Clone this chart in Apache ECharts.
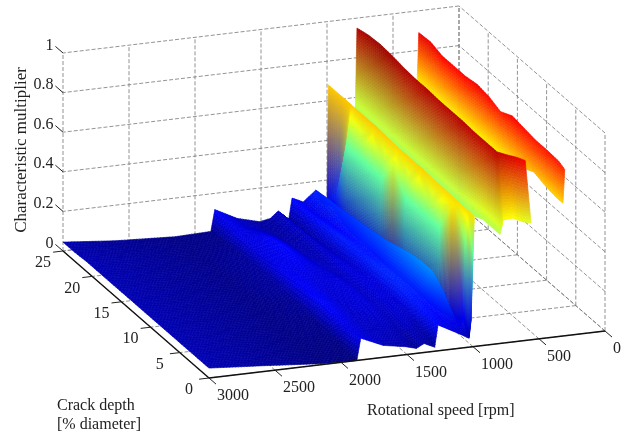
<!DOCTYPE html>
<html><head><meta charset="utf-8">
<style>html,body{margin:0;padding:0;background:#fff}#c{width:630px;height:438px;filter:blur(0.5px)}</style>
<script src="https://cdn.jsdelivr.net/npm/echarts@6/dist/echarts.min.js"></script>
</head><body><div id="c"></div>
<script>
const rpmTicks=[0,500,1000,1500,2000,2500,3000];
const depthTicks=[0,5,10,15,20,25];
const zTicks=[0,0.2,0.4,0.6,0.8,1];
const rpmSamples=[3000,2600,2150,1880,1850,1680,1510,1430,1370,1290,1265,1180,1085,1045,1030,1015,1000,990,900,795,785,773,700,620,560,450,318,312,305];
const depthSamples=[25,23,21,19,17,15,13,11,9,7,5,3,1,0];
const n=null;
const depth25=[.045,.02,.005,.01,.118,.06,.03,.04,.073,.025,.13,.104,.156,.09,.09,.09,.09,.68,n,.48,.57,.95,n,n,n,n,.64,.74,.89];
const depth23=[.045,.025,.01,.01,.11,.065,.035,.04,.075,.03,.13,.10,.165,.12,.13,.14,.16,.68,n,.48,.57,.965,n,n,n,n,.64,.74,.895];
const depth21=[.05,.03,.01,.02,.10,.09,.04,.045,.08,.035,.135,.11,.17,.08,.47,.54,.62,.68,n,.48,.57,.97,n,n,n,n,.64,.74,.875];
const depth19=[.05,.03,.012,.03,.09,.12,.05,.05,.08,.05,.14,.12,.18,.07,.47,.53,.60,.68,n,.48,.57,.965,n,n,n,n,.64,.74,.875];
const depth17=[.05,.03,.012,.03,.09,.13,.06,.05,.08,.06,.15,.13,.19,.07,.47,.62,.67,.68,n,.48,.57,.955,n,n,n,n,.64,.74,.875];
const depth15=[.05,.03,.012,.03,.10,.12,.07,.06,.09,.07,.15,.14,.20,.06,.47,.53,.60,.675,n,.48,.57,.95,n,n,n,n,.64,.74,.885];
const depth13=[.05,.03,.012,.03,.11,.10,.08,.06,.09,.08,.15,.14,.21,.06,.58,.62,.66,.67,n,.48,.57,.95,n,n,n,n,.64,.74,.875];
const depth11=[.05,.03,.01,.02,.12,.09,.09,.07,.09,.09,.16,.15,.23,.06,.47,.53,.60,.67,n,.48,.57,.945,n,n,n,n,.64,.74,.85];
const depth9=[.05,.03,.01,.02,.12,.085,.09,.07,.09,.09,.16,.16,.25,.06,.47,.62,.67,.67,n,.48,.57,.945,n,n,n,n,.65,.75,.88];
const depth7=[.05,.03,.008,.015,.13,.08,.09,.07,.09,.09,.16,.16,.26,.06,.47,.53,.60,.665,n,.5,.57,.945,n,n,n,n,.67,.76,.87];
const depth5=[.05,.03,.008,.01,.12,.075,.08,.06,.08,.08,.15,.15,.26,.06,.47,.62,.66,.665,n,.52,.58,.94,n,n,n,n,.70,.77,.86];
const depth3=[.05,.03,.006,.005,.10,.07,.06,.05,.07,.05,.14,.13,.2,.08,.64,.65,.66,.66,n,.55,.59,.94,n,n,n,n,.68,.76,.86];
const depth1=[.05,.03,.005,.002,.105,.065,.05,.03,.05,.03,.135,.11,.10,.10,.12,.5,.62,.66,n,.55,.59,.94,.92,.90,.88,n,.67,.76,.855];
const depth0=[.05,.03,.005,0,.11,.06,.04,.025,.045,.02,.13,.10,.066,.05,.045,.135,.45,.655,n,.55,.58,.62,.625,.60,.59,n,.67,.75,.84];
const surface=[depth25,depth23,depth21,depth19,depth17,depth15,depth13,depth11,depth9,depth7,depth5,depth3,depth1,depth0];

function project(r,d,z){
  const R=3000-r,D=25-d;
  return [63+0.132*R+5.84*D, 251-0.01567*R+5.08*D-198*z];
}
function jet(z){
  const c=v=>255*Math.max(0,Math.min(1,1.5-Math.abs(4*z-v)));
  return [c(3),c(2),c(1)];
}
const patches=[];
for(let i=rpmSamples.length-2;i>=0;i--){
  for(let j=0;j<depthSamples.length-1;j++){
    if([surface[j][i],surface[j+1][i],surface[j][i+1],surface[j+1][i+1]].every(v=>v!==null)) patches.push([i,j]);
  }
}
const lerp=(a,b,t)=>a+(b-a)*t;
const CELL=3;
function renderPatch(params,api){
  const i=api.value(0),j=api.value(1);
  const cor=(a,b)=>({p:project(rpmSamples[a],depthSamples[b],surface[b][a]),c:jet(surface[b][a])});
  const c00=cor(i,j),c10=cor(i+1,j),c01=cor(i,j+1),c11=cor(i+1,j+1);
  const dist=(a,b)=>Math.hypot(a.p[0]-b.p[0],a.p[1]-b.p[1]);
  const nu=Math.max(1,Math.ceil(Math.max(dist(c00,c10),dist(c01,c11))/CELL));
  const nv=Math.max(1,Math.ceil(Math.max(dist(c00,c01),dist(c10,c11))/CELL));
  const P=(u,v)=>[lerp(lerp(c00.p[0],c10.p[0],u),lerp(c01.p[0],c11.p[0],u),v),lerp(lerp(c00.p[1],c10.p[1],u),lerp(c01.p[1],c11.p[1],u),v)];
  const C=(u,v)=>[0,1,2].map(k=>Math.round(lerp(lerp(c00.c[k],c10.c[k],u),lerp(c01.c[k],c11.c[k],u),v)));
  const children=[];
  for(let a=nu-1;a>=0;a--){
    for(let b=0;b<nv;b++){
      const u0=a/nu,u1=(a+1)/nu,v0=b/nv,v1=(b+1)/nv;
      const c=C((u0+u1)/2,(v0+v1)/2),col='rgb('+c.join(',')+')';
      children.push({type:'polygon',shape:{points:[P(u0,v0),P(u0,v1),P(u1,v1),P(u1,v0)]},style:{fill:col,stroke:col,lineWidth:0.6}});
    }
  }
  return {type:'group',children};
}
const gridLines=[],axisLines=[],tickLines=[];
const rMax=3000,dMax=25,zMax=1;
rpmTicks.forEach(r=>{gridLines.push([r,dMax,0,r,dMax,zMax]);gridLines.push([r,0,0,r,dMax,0]);});
depthTicks.forEach(d=>{gridLines.push([0,d,0,0,d,zMax]);gridLines.push([0,d,0,rMax,d,0]);});
zTicks.forEach(z=>{gridLines.push([0,dMax,z,rMax,dMax,z]);gridLines.push([0,0,z,0,dMax,z]);});
axisLines.push([0,0,0,rMax,0,0],[rMax,0,0,rMax,dMax,0]);
rpmTicks.forEach(r=>tickLines.push([r,0,0,r,-1.2,0]));
depthTicks.forEach(d=>tickLines.push([rMax,d,0,rMax+75,d,0]));
zTicks.forEach(z=>tickLines.push([rMax,dMax,z,rMax,dMax+1.3,z]));
function lineSeries(name,data,style){
  return {name,type:'custom',coordinateSystem:'none',silent:true,animation:false,progressive:0,clip:false,data,
    renderItem(p,api){
      const a=project(api.value(0),api.value(1),api.value(2)),b=project(api.value(3),api.value(4),api.value(5));
      return {type:'line',shape:{x1:a[0],y1:a[1],x2:b[0],y2:b[1]},style};
    }};
}
const font='"Liberation Serif","Times New Roman",serif';
function labelSeries(name,data,dx,dy,align,size){
  return {name,type:'custom',coordinateSystem:'none',silent:true,animation:false,progressive:0,clip:false,data,
    renderItem(p,api){
      const a=project(api.value(0),api.value(1),api.value(2));
      return {type:'text',x:a[0]+dx,y:a[1]+dy,style:{text:String(api.value(3)),font:size+'px '+font,fill:'#222',align,verticalAlign:'middle'}};
    }};
}
const chart=echarts.init(document.getElementById('c'),null,{width:630,height:438});
chart.setOption({
  animation:false,backgroundColor:'#fff',
  series:[
    lineSeries('grid',gridLines,{stroke:'#777',lineWidth:0.8,lineDash:[4,2]}),
    {name:'surface',type:'custom',coordinateSystem:'none',silent:true,animation:false,progressive:0,clip:false,data:patches,renderItem:renderPatch},
    lineSeries('axes',axisLines,{stroke:'#111',lineWidth:1.4}),
    lineSeries('ticks',tickLines,{stroke:'#222',lineWidth:1}),
    labelSeries('zLabels',zTicks.map(z=>[rMax,dMax+1.3,z,z]),-2,-1,'right',16),
    labelSeries('depthLabels',depthTicks.map(d=>[rMax,d,0,d]),-20,12,'center',16),
    labelSeries('rpmLabels',rpmTicks.map(r=>[r,0,0,r]),8,18,'left',16)
  ],
  graphic:[
    {type:'text',x:22,y:150,rotation:Math.PI/2,style:{text:'Characteristic multiplier',font:'17px '+font,fill:'#222',align:'center',verticalAlign:'middle'}},
    {type:'text',x:57,y:406,style:{text:'Crack depth',font:'16px '+font,fill:'#222',verticalAlign:'middle'}},
    {type:'text',x:57,y:425,style:{text:'[% diameter]',font:'16px '+font,fill:'#222',verticalAlign:'middle'}},
    {type:'text',x:367,y:411,style:{text:'Rotational speed [rpm]',font:'16px '+font,fill:'#222',verticalAlign:'middle'}}
  ]
});
</script></body></html>
